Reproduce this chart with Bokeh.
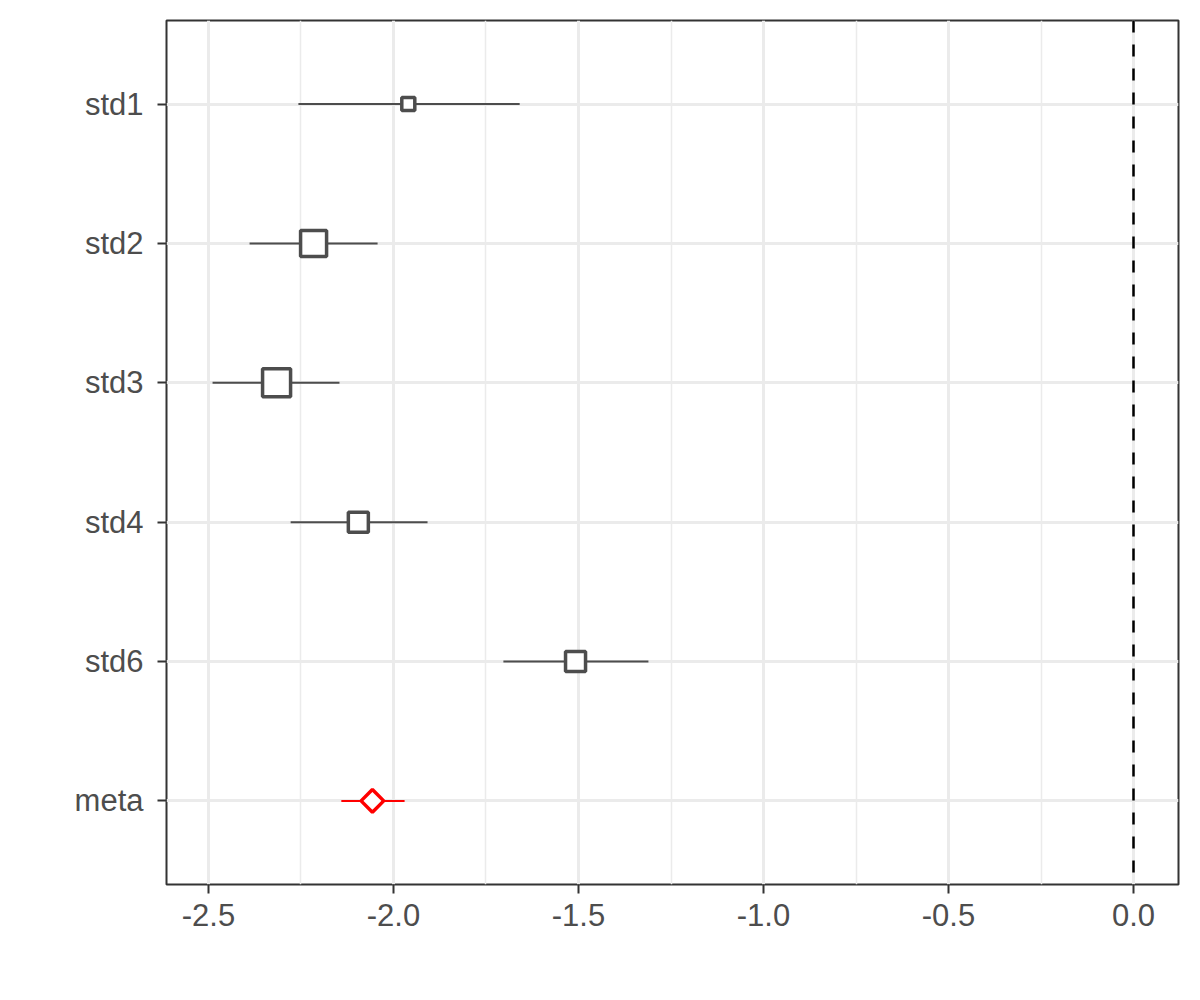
from bokeh.plotting import figure
from bokeh.models import Range1d, FixedTicker, ColumnDataSource, Span
from bokeh.embed import file_html
from bokeh.resources import INLINE
import numpy as np

studies = ["std1", "std2", "std3", "std4", "std6", "meta"]
estimate = [-1.96, -2.216, -2.316, -2.095, -1.508, -2.057]
lower = [-2.257, -2.389, -2.489, -2.278, -1.703, -2.141]
upper = [-1.659, -2.043, -2.146, -1.908, -1.311, -1.970]
weight = [13, 26, 28, 20, 20]  # relative study weights (marker scale)
x_ticks = [-2.5, -2.0, -1.5, -1.0, -0.5, 0.0]
x_tick_labels = ["-2.5", "-2.0", "-1.5", "-1.0", "-0.5", "0.0"]
x_minor = [-2.25, -1.75, -1.25, -0.75, -0.25]

n = len(studies)
ypos = [n - i for i in range(n)]

p = figure(width=1192, height=992, output_backend="svg", toolbar_location=None,
           x_range=Range1d(-2.6135, 0.1216), y_range=Range1d(0.4, n + 0.6),
           min_border_left=166, min_border_right=14, min_border_top=20, min_border_bottom=108)

FONT = "Liberation Sans"
for ax in (p.xaxis[0], p.yaxis[0]):
    ax.axis_line_color = None
    ax.major_tick_line_color = "#333333"
    ax.major_tick_line_width = 2
    ax.major_tick_out = 9
    ax.major_tick_in = 0
    ax.minor_tick_line_color = None
    ax.major_label_text_font = FONT
    ax.major_label_text_font_size = "31px"
    ax.major_label_text_color = "#4D4D4D"

p.xaxis.ticker = FixedTicker(ticks=x_ticks, minor_ticks=x_minor)
p.xaxis.major_label_overrides = {t: l for t, l in zip(x_ticks, x_tick_labels)}
p.xaxis.major_label_standoff = 10
p.yaxis.ticker = FixedTicker(ticks=ypos)
p.yaxis.major_label_overrides = {y: s for y, s in zip(ypos, studies)}
p.yaxis.major_label_standoff = 14

p.xgrid.grid_line_color = "#EBEBEB"
p.xgrid.grid_line_width = 3
p.xgrid.minor_grid_line_color = "#EBEBEB"
p.xgrid.minor_grid_line_width = 1.5
p.ygrid.grid_line_color = "#EBEBEB"
p.ygrid.grid_line_width = 3

p.outline_line_color = "#333333"
p.outline_line_width = 2
p.background_fill_color = "white"
p.border_fill_color = "white"

m = n - 1
studies_src = ColumnDataSource(dict(y=ypos[:m], est=estimate[:m], lo=lower[:m], hi=upper[:m],
                                    size=weight))
p.segment(x0="lo", x1="hi", y0="y", y1="y", source=studies_src, line_color="#4D4D4D", line_width=2)
p.scatter(x="est", y="y", size="size", marker="square", source=studies_src,
          fill_color="white", line_color="#4D4D4D", line_width=3.5)

meta_src = ColumnDataSource(dict(y=ypos[m:], est=estimate[m:], lo=lower[m:], hi=upper[m:]))
p.segment(x0="lo", x1="hi", y0="y", y1="y", source=meta_src, line_color="red", line_width=2)
p.scatter(x="est", y="y", size=16, marker="square", angle=np.pi / 4, source=meta_src,
          fill_color="white", line_color="red", line_width=3.5)

p.add_layout(Span(location=0, dimension="height", line_color="black", line_width=2.5,
                  line_dash="12 12"))

open("out.html", "w").write(file_html(p, INLINE))
